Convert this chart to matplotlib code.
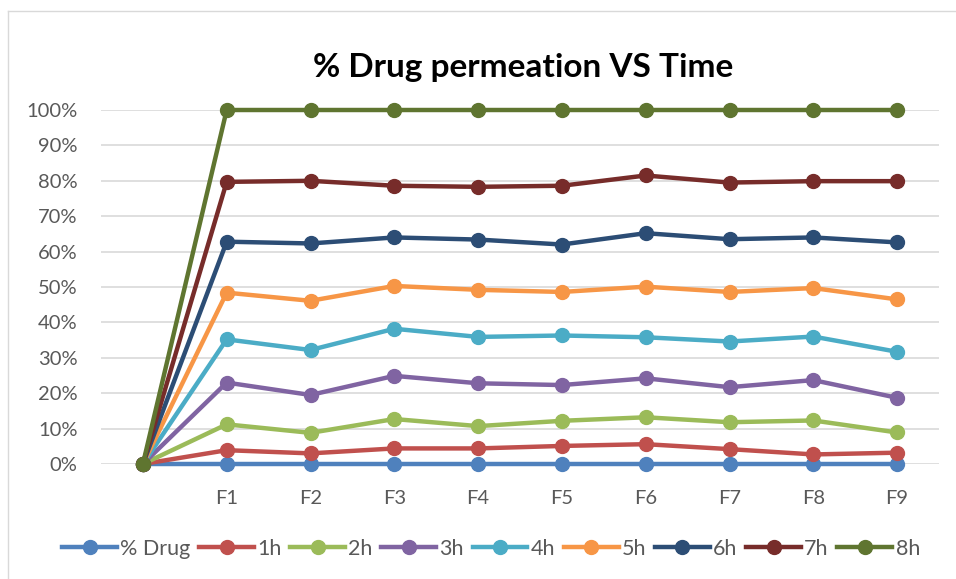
import matplotlib.pyplot as plt
from matplotlib.lines import Line2D
from matplotlib.ticker import PercentFormatter

categories = ['', 'F1', 'F2', 'F3', 'F4', 'F5', 'F6', 'F7', 'F8', 'F9']
series_names = ['% Drug', '1h', '2h', '3h', '4h', '5h', '6h', '7h', '8h']

drug = [0, 0, 0, 0, 0, 0, 0, 0, 0, 0]
h1 = [0, 3.9, 3.0, 4.4, 4.4, 5.1, 5.6, 4.2, 2.7, 3.2]
h2 = [0, 11.2, 8.8, 12.7, 10.7, 12.2, 13.2, 11.8, 12.3, 8.9]
h3 = [0, 23.0, 19.5, 24.9, 22.8, 22.3, 24.2, 21.7, 23.7, 18.7]
h4 = [0, 35.2, 32.2, 38.2, 35.9, 36.3, 35.8, 34.6, 36.0, 31.7]
h5 = [0, 48.4, 46.1, 50.3, 49.2, 48.6, 50.1, 48.6, 49.7, 46.5]
h6 = [0, 62.8, 62.3, 64.0, 63.4, 62.0, 65.2, 63.5, 64.0, 62.6]
h7 = [0, 79.7, 80.0, 78.6, 78.3, 78.6, 81.5, 79.5, 79.9, 79.9]
h8 = [0, 100, 100, 100, 100, 100, 100, 100, 100, 100]

colors = ['#4F81BD', '#C0504D', '#9BBB59', '#8064A2', '#4BACC6',
          '#F79646', '#2C4D75', '#772C2A', '#5F7530']

plt.rcParams['font.family'] = ['Lato', 'DejaVu Sans']

fig = plt.figure(figsize=(9.56, 5.79), dpi=100)
ax = fig.add_axes([101 / 956, 1 - 464 / 579, 838 / 956, 354 / 579])

# outer chart frame (only top/left visible in the screenshot)
fig.add_artist(Line2D([8 / 956, 8 / 956], [0, 1 - 11 / 579], color='#D9D9D9', lw=1))
fig.add_artist(Line2D([8 / 956, 1], [1 - 11 / 579, 1 - 11 / 579], color='#D9D9D9', lw=1))

x = list(range(len(categories)))
all_series = [drug, h1, h2, h3, h4, h5, h6, h7, h8]
for i, (name, vals) in enumerate(zip(series_names, all_series)):
    ax.plot(x, [v / 100 for v in vals], color=colors[i], lw=3.2, marker='o',
            markersize=10, label=name, clip_on=False, zorder=3 + i)

ax.set_xlim(-0.5, len(categories) - 0.5)
ax.set_ylim(0, 1)
ax.set_yticks([i / 10 for i in range(11)])
ax.yaxis.set_major_formatter(PercentFormatter(1.0, decimals=0))
ax.set_xticks(x)
ax.set_xticklabels(categories)
ax.grid(axis='y', color='#D9D9D9', lw=1.2)
ax.set_axisbelow(True)
for s in ax.spines.values():
    s.set_visible(False)
ax.tick_params(axis='both', length=0, labelsize=14.5, colors='#595959')
ax.tick_params(axis='y', pad=17)
ax.tick_params(axis='x', pad=19)

fig.text(523 / 956, 1 - 67 / 579, '% Drug permeation VS Time', ha='center', va='center',
         fontsize=24, fontweight='bold', color='black')

fig.legend(loc='center', bbox_to_anchor=(491 / 956, 1 - 549 / 579), ncol=9, frameon=False,
           fontsize=15.5, handlelength=2.55, handletextpad=0.15, columnspacing=0.4,
           labelcolor='#595959', borderaxespad=0, borderpad=0)

fig.savefig('out.png', dpi=100)
